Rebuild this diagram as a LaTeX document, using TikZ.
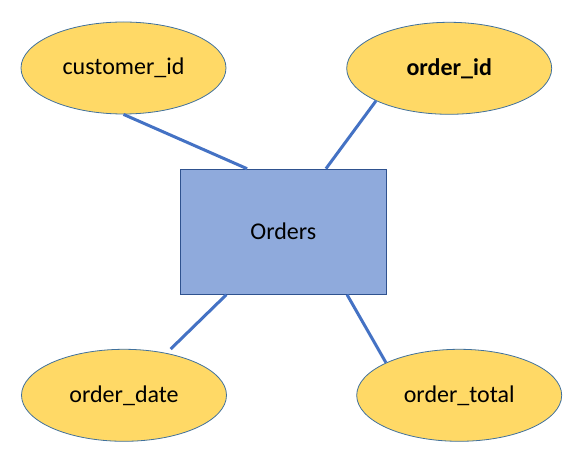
\documentclass[tikz,border=0pt]{standalone}
\usepackage{fontspec}
\setmainfont{Carlito}
\usetikzlibrary{shapes.geometric,calc}

\definecolor{attrfill}{HTML}{FFD966}
\definecolor{attredge}{HTML}{41719C}
\definecolor{entfill}{HTML}{8FAADC}
\definecolor{entedge}{HTML}{2F528F}
\definecolor{link}{HTML}{4472C4}

\begin{document}
\begin{tikzpicture}[x=0.75pt,y=-0.75pt,
		attr/.style={ellipse, draw=attredge, fill=attrfill, line width=0.6pt,
			minimum width=153.75pt, minimum height=69pt, inner sep=0pt,
			font=\fontsize{18}{21}\selectfont},
		entity/.style={rectangle, draw=entedge, fill=entfill, line width=0.75pt,
			minimum width=154.5pt, minimum height=93.75pt, inner sep=0pt,
			font=\fontsize{18}{21}\selectfont},
		rel/.style={draw=link, line width=2.25pt}]
		\useasboundingbox (0,0) rectangle (579,452);
		\node[entity] (orders) at (283.3,231.7) {Orders};
		\node[attr] (custid) at (123.5,68) {customer\_id};
		\node[attr] (ordid) at (449.2,68.3) {\textbf{order\_id}};
		\node[attr] (orddate) at (124,395.3) {order\_date};
		\node[attr] (ordtotal) at (459.2,395.3) {order\_total};
		% ends of the links on the box
		\coordinate (ncust) at ($(orders.north west)!0.325!(orders.north east)$);
		\coordinate (nord) at ($(orders.north west)!0.706!(orders.north east)$);
		\coordinate (sdate) at ($(orders.south west)!0.225!(orders.south east)$);
		\coordinate (stotal) at ($(orders.south west)!0.808!(orders.south east)$);
		\coordinate (tdate) at (170.7,349);
		\draw[rel] (custid.south) -- (ncust);
		\draw[rel] (ordid.204) -- (nord);
		\draw[rel] (sdate) -- (tdate);
		\draw[rel] (stotal) -- (ordtotal.156);
	\end{tikzpicture}
\end{document}
